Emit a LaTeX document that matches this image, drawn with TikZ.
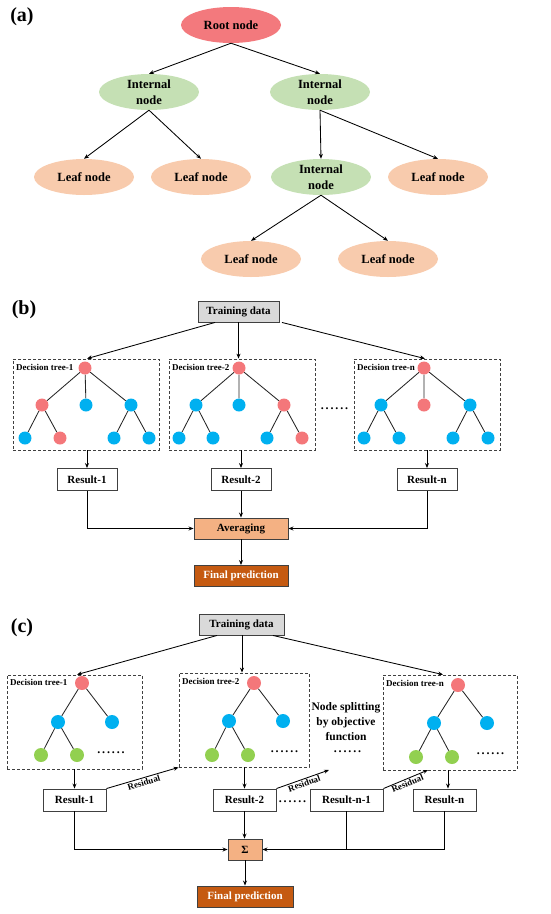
\documentclass[tikz,border=0pt]{standalone}
\usepackage{fontspec}
\setmainfont{Liberation Serif}
\usetikzlibrary{shapes.geometric,arrows.meta,calc}
\definecolor{rootred}{HTML}{F3797D}
\definecolor{intgreen}{HTML}{C5E0B4}
\definecolor{leafor}{HTML}{F8CBAD}
\definecolor{dotred}{HTML}{F4777A}
\definecolor{dotblue}{HTML}{00B0F0}
\definecolor{dotgreen}{HTML}{92D050}
\definecolor{tdgray}{HTML}{D9D9D9}
\definecolor{avgor}{HTML}{F4B183}
\definecolor{finalor}{HTML}{C55A11}
\definecolor{edgegray}{HTML}{404040}
\newcommand\mysixdots{.\kern1.9pt.\kern1.9pt.\kern1.9pt.\kern1.9pt.\kern1.9pt.}
\begin{document}
\begin{tikzpicture}[x=1pt,y=-1pt,
  every node/.style={font=\bfseries\fontsize{11}{13}\selectfont},
  arr/.style={draw=black,line width=0.85pt,-{Stealth[length=5pt,width=4pt]}},
  edge/.style={draw=black!85,line width=0.85pt},
  ell/.style={ellipse,minimum width=100pt,minimum height=36pt,inner sep=0pt,align=center,
    font=\bfseries\fontsize{12.5}{15.5}\selectfont},
  rootell/.style={ell,fill=rootred},
  intell/.style={ell,fill=intgreen},
  leafell/.style={ell,fill=leafor},
  panellabel/.style={font=\bfseries\fontsize{20}{24}\selectfont},
  tdbox/.style={draw=edgegray,line width=0.9pt,fill=tdgray,minimum height=21pt,inner sep=0pt},
  resbox/.style={draw=edgegray,line width=0.9pt,fill=white,minimum height=22pt,inner sep=0pt},
  avgbox/.style={draw=edgegray,line width=0.9pt,fill=avgor,minimum height=21pt,inner sep=0pt},
  finbox/.style={draw=edgegray,line width=0.9pt,fill=finalor,text=white,minimum height=21pt,inner sep=0pt},
  dbox/.style={draw=edgegray,line width=0.8pt,dash pattern=on 3pt off 2pt,inner sep=0pt},
  dtlabel/.style={anchor=west,inner sep=0pt,font=\bfseries\fontsize{9}{10}\selectfont},
  dotb/.style={circle,inner sep=0pt,minimum size=13pt},
  dotc/.style={circle,inner sep=0pt,minimum size=14pt},
  ellip/.style={font=\bfseries\fontsize{12}{12}\selectfont,inner sep=0pt,anchor=base},
  reslab/.style={font=\bfseries\fontsize{9}{10}\selectfont,inner sep=1pt}
]
\useasboundingbox (0,0) rectangle (550,914);

% ---------------- (a) ----------------
\node[panellabel] (la) at (22,17) {(a)};
\node[rootell] (root) at (231,25) {Root node};
\node[intell] (ia) at (149,92) {Internal\\node};
\node[intell] (ib) at (320,92) {Internal\\node};
\node[leafell] (l1) at (84,177) {Leaf node};
\node[leafell] (l2) at (201,177) {Leaf node};
\node[intell] (ic) at (321,177) {Internal\\node};
\node[leafell] (l3) at (438,177) {Leaf node};
\node[leafell] (l4) at (251,259) {Leaf node};
\node[leafell] (l5) at (388,259) {Leaf node};
\draw[arr] (root.south) -- (ia.north);
\draw[arr] (root.south) -- (ib.north);
\draw[arr] (ia.south) -- (l1.north);
\draw[arr] (ia.south) -- (l2.north);
\draw[arr] (ib.south) -- (ic.north);
\draw[arr] (ib.south) -- (l3.north);
\draw[arr] (ic.south) -- (l4.north);
\draw[arr] (ic.south) -- (l5.north);

% ---------------- (b) ----------------
\node[panellabel] (lb) at (24,310) {(b)};
\node[tdbox,minimum width=81pt] (TDb) at (238.5,311.5) {Training data};
\node[dbox,minimum width=146pt,minimum height=91pt] (B1) at (86,404.5) {};
\node[dbox,minimum width=146pt,minimum height=91pt] (B2) at (242,404.5) {};
\node[dbox,minimum width=146pt,minimum height=91pt] (B3) at (427,404.5) {};
\draw[arr] ($(TDb.south)+(-23.5,0)$) -- ($(B1.north)+(1,0)$);
\draw[arr] (TDb.south) -- (TDb.south |- B2.north);
\draw[arr] ($(TDb.south)+(43.5,0)$) -- ($(B3.north)+(-2,0)$);
\node[dtlabel] (dt1) at (16,367) {Decision tree-1};
\node[dtlabel] (dt2) at (172,367) {Decision tree-2};
\node[dtlabel] (dt3) at (357,367) {Decision tree-n};
% tree 1
\node[dotb] (b1r) at (85,368) {};
\node[dotb] (b1a) at (42,405) {};
\node[dotb] (b1b) at (86,405) {};
\node[dotb] (b1c) at (131,405) {};
\node[dotb] (b1d) at (25,438) {};
\node[dotb] (b1e) at (60,438) {};
\node[dotb] (b1f) at (114,438) {};
\node[dotb] (b1g) at (149,438) {};
% tree 2
\node[dotb] (b2r) at (239,368) {};
\node[dotb] (b2a) at (196,405) {};
\node[dotb] (b2b) at (239,405) {};
\node[dotb] (b2c) at (284,405) {};
\node[dotb] (b2d) at (179,438) {};
\node[dotb] (b2e) at (213,438) {};
\node[dotb] (b2f) at (267,438) {};
\node[dotb] (b2g) at (302,438) {};
% tree n
\node[dotb] (b3r) at (424,368) {};
\node[dotb] (b3a) at (381,405) {};
\node[dotb] (b3b) at (424,405) {};
\node[dotb] (b3c) at (470,405) {};
\node[dotb] (b3d) at (364,438) {};
\node[dotb] (b3e) at (399,438) {};
\node[dotb] (b3f) at (453,438) {};
\node[dotb] (b3g) at (488,438) {};
\foreach \t in {b1,b2,b3}{
  \draw[edge] (\t r) -- (\t a) (\t r) -- (\t b) (\t r) -- (\t c)
              (\t a) -- (\t d) (\t a) -- (\t e) (\t c) -- (\t f) (\t c) -- (\t g);
}
\foreach \t/\c in {b1r/dotred,b1a/dotred,b1b/dotblue,b1c/dotblue,b1d/dotblue,b1e/dotred,b1f/dotblue,b1g/dotblue,
                   b2r/dotred,b2a/dotblue,b2b/dotblue,b2c/dotred,b2d/dotblue,b2e/dotblue,b2f/dotblue,b2g/dotred,
                   b3r/dotred,b3a/dotblue,b3b/dotred,b3c/dotblue,b3d/dotblue,b3e/dotblue,b3f/dotblue,b3g/dotblue}{
  \fill[\c] (\t.center) circle (6.5pt);
}
\node[ellip] (bdots) at (334.5,409) {\mysixdots};
\node[resbox,minimum width=60pt] (R1b) at (87,479.5) {Result-1};
\node[resbox,minimum width=60pt] (R2b) at (241,479.5) {Result-2};
\node[resbox,minimum width=60pt] (R3b) at (427,479.5) {Result-n};
\draw[arr] (B1.south -| R1b.north) -- (R1b.north);
\draw[arr] (B2.south -| R2b.north) -- (R2b.north);
\draw[arr] (B3.south -| R3b.north) -- (R3b.north);
\node[avgbox,minimum width=94pt] (AVG) at (241,528.5) {Averaging};
\node[finbox,minimum width=94pt] (FINb) at (241,576) {Final prediction};
\draw[arr] (R1b.south) |- (AVG.west);
\draw[arr] (R2b.south) -- (AVG.north);
\draw[arr] (R3b.south) |- (AVG.east);
\draw[arr] (AVG.south) -- (FINb.north);

% ---------------- (c) ----------------
\node[panellabel] (lc) at (22,628) {(c)};
\node[tdbox,minimum width=85pt] (TDc) at (241.5,624.5) {Training data};
\node[dbox,minimum width=135pt,minimum height=94pt] (C1) at (74.5,722) {};
\node[dbox,minimum width=130pt,minimum height=94pt] (C2) at (244,720) {};
\node[dbox,minimum width=134pt,minimum height=95pt] (C3) at (450,722.5) {};
\draw[arr] ($(TDc.south)+(-24.5,0)$) -- ($(C1.north)+(2.5,0)$);
\draw[arr] ($(TDc.south)+(0.5,0)$) -- ($(C2.north)+(-2,0)$);
\draw[arr] ($(TDc.south)+(31.5,0)$) -- ($(C3.north)+(-7,0)$);
\node[dtlabel] (ct1) at (10,682) {Decision tree-1};
\node[dtlabel] (ct2) at (182,681) {Decision tree-2};
\node[dtlabel] (ct3) at (386,683) {Decision tree-n};
% tree c1
\node[dotc] (c1r) at (82,683) {};
\node[dotc] (c1a) at (58,722) {};
\node[dotc] (c1b) at (112,722) {};
\node[dotc] (c1d) at (41,755) {};
\node[dotc] (c1e) at (77,755) {};
% tree c2
\node[dotc] (c2r) at (254,683) {};
\node[dotc] (c2a) at (229,721) {};
\node[dotc] (c2b) at (283,721) {};
\node[dotc] (c2d) at (212,755) {};
\node[dotc] (c2e) at (248,755) {};
% tree c3
\node[dotc] (c3r) at (458,685) {};
\node[dotc] (c3a) at (434,723) {};
\node[dotc] (c3b) at (487,723) {};
\node[dotc] (c3d) at (416,757) {};
\node[dotc] (c3e) at (452,757) {};
\foreach \t in {c1,c2,c3}{
  \draw[edge] (\t r) -- (\t a) (\t r) -- (\t b) (\t a) -- (\t d) (\t a) -- (\t e);
  \fill[dotred] (\t r.center) circle (7pt);
  \fill[dotblue] (\t a.center) circle (7pt);
  \fill[dotblue] (\t b.center) circle (7pt);
  \fill[dotgreen] (\t d.center) circle (7pt);
  \fill[dotgreen] (\t e.center) circle (7pt);
}
\node[ellip] (cd1) at (111,753) {\mysixdots};
\node[ellip] (cd2) at (284.5,752) {\mysixdots};
\node[ellip] (cd3) at (490.5,754) {\mysixdots};
\node[align=center,inner sep=0pt,font=\bfseries\fontsize{11.5}{15}\selectfont] (split) at (346,721.5) {Node splitting\\by objective\\function};
\node[ellip] (cd4) at (347.5,752.5) {\mysixdots};
\node[resbox,minimum width=63pt] (R1c) at (74.5,800) {Result-1};
\node[resbox,minimum width=63pt] (R2c) at (244.5,800) {Result-2};
\node[resbox,minimum width=73pt] (R3c) at (346.5,800) {Result-n-1};
\node[resbox,minimum width=63pt] (R4c) at (444.5,800) {Result-n};
\node[ellip] (cd5) at (292.5,802) {\mysixdots};
\draw[arr] (C1.south -| R1c.north) -- (R1c.north);
\draw[arr] (C2.south -| R2c.north) -- (R2c.north);
\draw[arr] ($(C3.south)+(-2,0)$) -- ($(R4c.north)+(3.5,0)$);
\coordinate (res2end) at (329,770);
\coordinate (res3end) at (428,770);
\draw[arr] (R1c.north east) -- node[reslab,midway,below,sloped] {Residual} (C2.south west);
\draw[arr] (R2c.north east) -- node[reslab,midway,below,sloped] {Residual} (res2end);
\draw[arr] (R3c.north east) -- node[reslab,midway,below,sloped] {Residual} (res3end);
\node[avgbox,minimum width=34pt] (SUM) at (245,849.5) {Σ};
\node[finbox,minimum width=96pt] (FINc) at (245,896.5) {Final prediction};
\draw[arr] (R1c.south) |- (SUM.west);
\draw[arr] (R2c.south) -- (R2c.south |- SUM.north);
\draw[arr] (R4c.south) |- (SUM.east);
\draw[edge,draw=black] (R3c.south) -- (R3c.south |- SUM.east);
\draw[arr] (SUM.south) -- (FINc.north);
\end{tikzpicture}
\end{document}
